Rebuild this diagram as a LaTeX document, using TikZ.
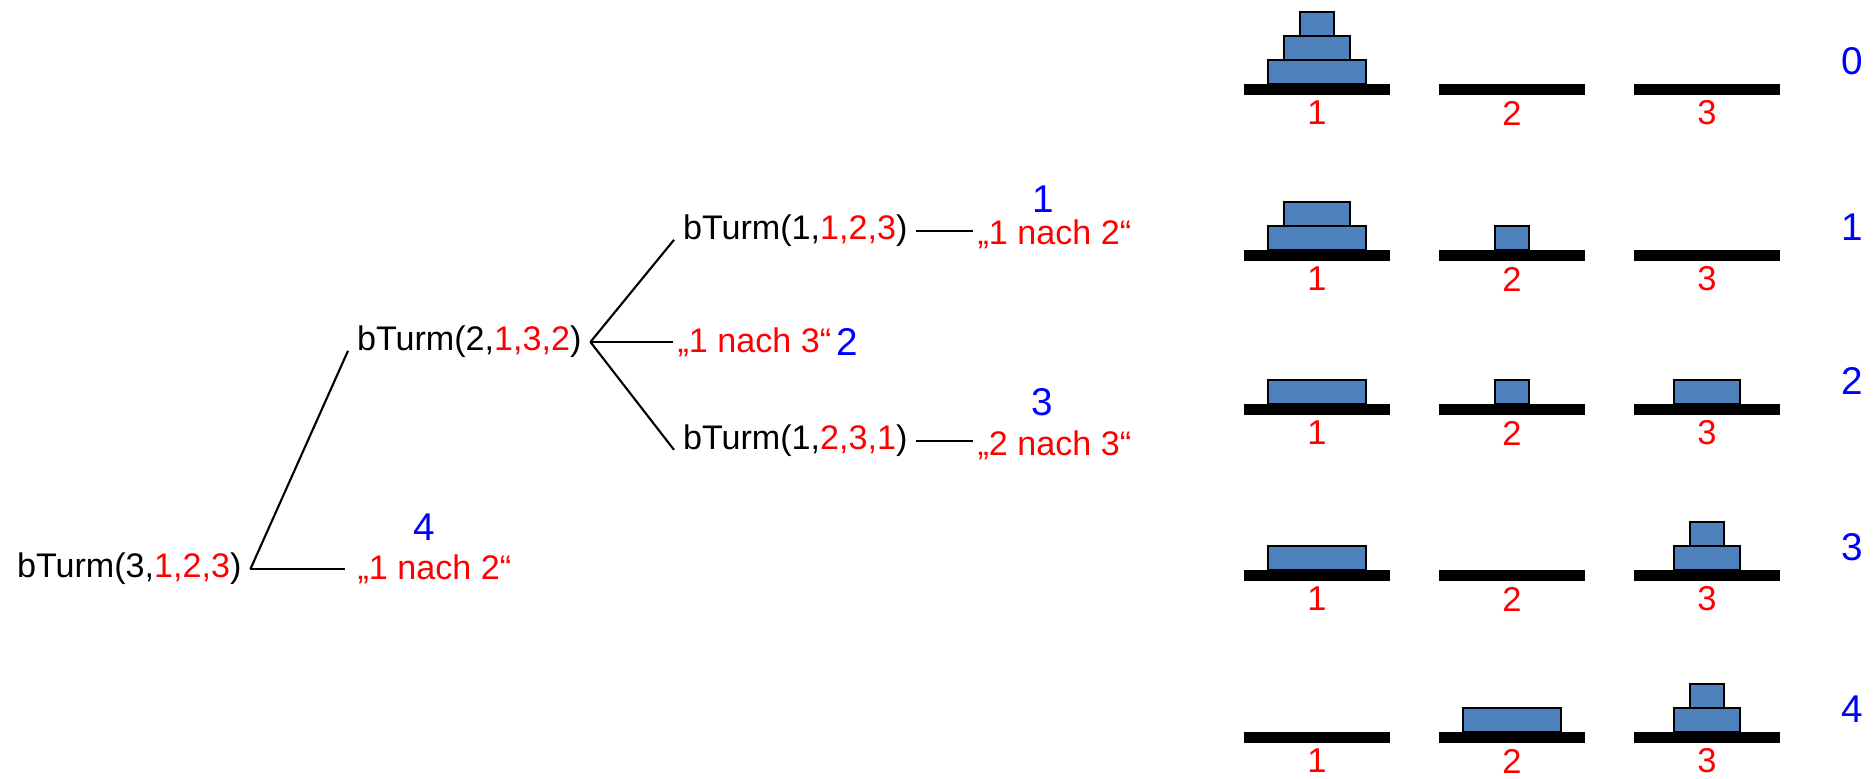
\documentclass[tikz,border=0pt]{standalone}
\usepackage{fontspec}
\setmainfont{Liberation Sans}
\usetikzlibrary{positioning,calc}
\definecolor{discblue}{HTML}{4F81BD}

\begin{document}
\begin{tikzpicture}[x=0.01cm, y=-0.01cm, line width=0.6pt,
    call/.style={inner sep=0.08cm, font=\fontsize{9.7}{12}\selectfont},
    move/.style={call, text=red, inner xsep=1pt},
    stepnum/.style={text=blue, font=\fontsize{11}{13}\selectfont},
    pegnum/.style={text=red, inner sep=0pt, font=\fontsize{9.8}{12}\selectfont},
    rod/.style={fill=black},
    disc/.style={draw=black, fill=discblue, line width=0.5pt}]
  \useasboundingbox (0,0) rectangle (1875,779);

  % Aufrufe
  \node[call, anchor=west] (t3) at (8,569) {bTurm(3,\textcolor{red}{1,2,3})};
  \node[call, anchor=west] (t2) at (348,342) {bTurm(2,\textcolor{red}{1,3,2})};
  \node[call, anchor=west] (c1) at (674,231) {bTurm(1,\textcolor{red}{1,2,3})};
  \node[call, anchor=west] (c3) at (674,441) {bTurm(1,\textcolor{red}{2,3,1})};

  % Zuege
  \node[move, anchor=west] (m4) at (353,569) {„1 nach 2“};
  \node[move, anchor=west] (m2) at (673,342) {„1 nach 3“};
  \node[move, anchor=west] (m1) at (973,234) {„1 nach 2“};
  \node[move, anchor=west] (m3) at (973,445) {„2 nach 3“};

  \node[stepnum] (n1) at (1043,199) {1};
  \node[stepnum] (n2) at (847,342) {2};
  \node[stepnum] (n3) at (1042,402) {3};
  \node[stepnum] (n4) at (424,527) {4};

  \draw (t3.east) -- (t2.base west);
  \draw (t3.east) -- ([xshift=-0.08cm]t3.east -| m4.west);
  \draw (t2.east) -- (c1.base west);
  \draw (t2.east) -- (m2.west);
  \draw (t2.east) -- (c3.base west);
  \draw (c1.east) -- (c1.east -| m1.west);
  \draw (c3.east) -- (c3.east -| m3.west);

  % Stangen mit Nummern
  \foreach \r/\top in {0/84, 1/250, 2/404, 3/570, 4/732} {
    \foreach \p/\xc in {1/1317, 2/1512, 3/1707} {
      \fill[rod] (\xc-73,\top) rectangle (\xc+73,\top+11);
      \node[pegnum] (lab\r\p) at (\xc,\top+29) {\p};
    }
    \node[stepnum] (row\r) at (1852,\top-23) {\r};
  }

  % Scheiben: Zeile/Stange/Ebene/Breite
  \foreach \r/\p/\l/\w in {0/1/0/98, 0/1/1/66, 0/1/2/34,
                           1/1/0/98, 1/1/1/66, 1/2/0/34,
                           2/1/0/98, 2/2/0/34, 2/3/0/66,
                           3/1/0/98, 3/3/0/66, 3/3/1/34,
                           4/2/0/98, 4/3/0/66, 4/3/1/34} {
    \pgfmathsetmacro{\top}{{84,250,404,570,732}[\r]}
    \pgfmathsetmacro{\xc}{1317+(\p-1)*195}
    \draw[disc] (\xc-\w/2,\top-\l*24) rectangle (\xc+\w/2,\top-\l*24-24);
  }
\end{tikzpicture}
\end{document}
